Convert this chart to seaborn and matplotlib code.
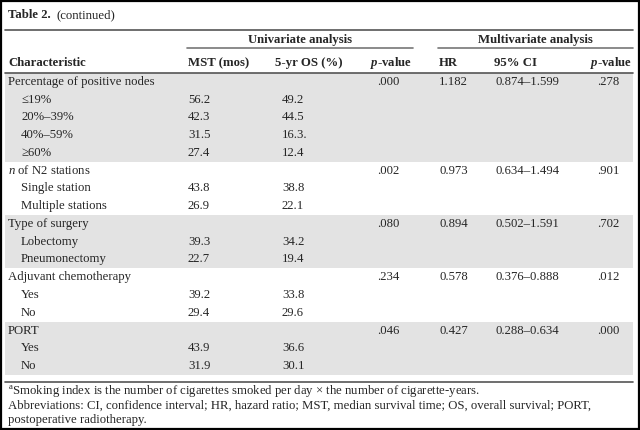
import matplotlib
matplotlib.use("Agg")
import matplotlib.pyplot as plt
import seaborn as sns

sns.set_theme(style="white")
plt.rcParams['font.family'] = ['Liberation Serif', 'DejaVu Serif']
plt.rcParams['mathtext.fontset'] = 'custom'
plt.rcParams['mathtext.rm'] = 'Liberation Serif'
plt.rcParams['mathtext.it'] = 'Liberation Serif:italic'
plt.rcParams['mathtext.bf'] = 'Liberation Serif:bold'
plt.rcParams['mathtext.bfit'] = 'Liberation Serif:bold:italic'

# ---- data ----
title_bold = "Table 2."
title_rest = "(continued)"
group_headers = ["Univariate analysis", "Multivariate analysis"]
col_headers = ["Characteristic", "MST (mos)", "5-yr OS (%)", r"$\mathbfit{p}$-value", "HR", "95% CI",
               r"$\mathbfit{p}$-value"]

groups = ["Percentage of positive nodes", "$n$ of N2 stations", "Type of surgery",
          "Adjuvant chemotherapy", "PORT"]
group_p_uni = [".000", ".002", ".080", ".234", ".046"]
group_hr = ["1.182", "0.973", "0.894", "0.578", "0.427"]
group_ci = ["0.874–1.599", "0.634–1.494", "0.502–1.591", "0.376–0.888", "0.288–0.634"]
group_p_multi = [".278", ".901", ".702", ".012", ".000"]

sub_labels = [["≤19%", "20%–39%", "40%–59%", "≥60%"],
              ["Single station", "Multiple stations"],
              ["Lobectomy", "Pneumonectomy"],
              ["Yes", "No"],
              ["Yes", "No"]]
mst = [["56.2", "42.3", "31.5", "27.4"],
       ["43.8", "26.9"],
       ["39.3", "22.7"],
       ["39.2", "29.4"],
       ["43.9", "31.9"]]
os5 = [["49.2", "44.5", "16.3.", "12.4"],
       ["38.8", "22.1"],
       ["34.2", "19.4"],
       ["33.8", "29.6"],
       ["36.6", "30.1"]]

footnotes = [r"$^{\rm a}$Smoking index is the number of cigarettes smoked per day × the number of cigarette-years.",
             "Abbreviations: CI, confidence interval; HR, hazard ratio; MST, median survival time; OS, overall survival; PORT,",
             "postoperative radiotherapy."]

# ---- layout ----
fig = plt.figure(figsize=(6.4, 4.3), dpi=100)
ax = fig.add_axes([0, 0, 1, 1])
ax.set_xlim(0, 640)
ax.set_ylim(430, 0)
ax.axis("off")

FS = 9.15
gray = "#e3e3e3"
L, R = 5, 633

# outer frame
ax.add_patch(plt.Rectangle((0.8, 0.8), 638.4, 428.4, fill=False, edgecolor="black", lw=1.6))

# title
t = ax.text(8, 15, title_bold, fontsize=FS, fontweight="bold", va="center")
fig.canvas.draw()
bb = t.get_window_extent()
ax.text(8 + bb.width + 6, 15, title_rest, fontsize=FS, va="center")
ax.plot([L, R], [29.5, 29.5], color="#555555", lw=1.2)

# group headers
ax.text(300, 40, group_headers[0], fontsize=FS, fontweight="bold", ha="center", va="center")
ax.text(535, 40, group_headers[1], fontsize=FS, fontweight="bold", ha="center", va="center")
ax.plot([187, 413], [47.5, 47.5], color="#777777", lw=1.2)
ax.plot([438, R], [47.5, 47.5], color="#777777", lw=1.2)

# column headers
hy = 63
ax.text(8, hy, col_headers[0], fontsize=FS, fontweight="bold", va="center")
ax.text(188, hy, col_headers[1], fontsize=FS, fontweight="bold", va="center")
ax.text(275, hy, col_headers[2], fontsize=FS, fontweight="bold", va="center")
ax.text(412, hy, col_headers[3], fontsize=FS, fontweight="bold", va="center", ha="right")
ax.text(439, hy, col_headers[4], fontsize=FS, fontweight="bold", va="center")
ax.text(494, hy, col_headers[5], fontsize=FS, fontweight="bold", va="center")
ax.text(632, hy, col_headers[6], fontsize=FS, fontweight="bold", va="center", ha="right")
ax.plot([L, R], [72.5, 72.5], color="#555555", lw=1.2)

# body
top = 73.0
rh = 17.76
row = 0
for gi, g in enumerate(groups):
    nrows = 1 + len(sub_labels[gi])
    y0 = top + row * rh
    if gi % 2 == 0:
        ax.add_patch(plt.Rectangle((L, y0), R - L, nrows * rh, facecolor=gray, edgecolor="none", zorder=0))
    yc = y0 + rh / 2
    ax.text(8, yc, g, fontsize=FS, va="center")
    ax.text(388, yc, group_p_uni[gi], fontsize=FS, va="center", ha="center")
    ax.text(439, yc, group_hr[gi], fontsize=FS, va="center")
    ax.text(495, yc, group_ci[gi], fontsize=FS, va="center")
    ax.text(608, yc, group_p_multi[gi], fontsize=FS, va="center", ha="center")
    for si, s in enumerate(sub_labels[gi]):
        yc = y0 + (si + 1) * rh + rh / 2
        ax.text(21, yc, s, fontsize=FS, va="center")
        ax.text(188, yc, mst[gi][si], fontsize=FS, va="center")
        ax.text(282, yc, os5[gi][si], fontsize=FS, va="center")
    row += nrows

ybot = top + row * rh
ax.plot([L, R], [ybot + 7, ybot + 7], color="#555555", lw=1.2)

# footnotes
for i, f in enumerate(footnotes):
    ax.text(8, 391 + i * 14.3, f, fontsize=FS, va="center")

fig.savefig("out.png", dpi=100)
